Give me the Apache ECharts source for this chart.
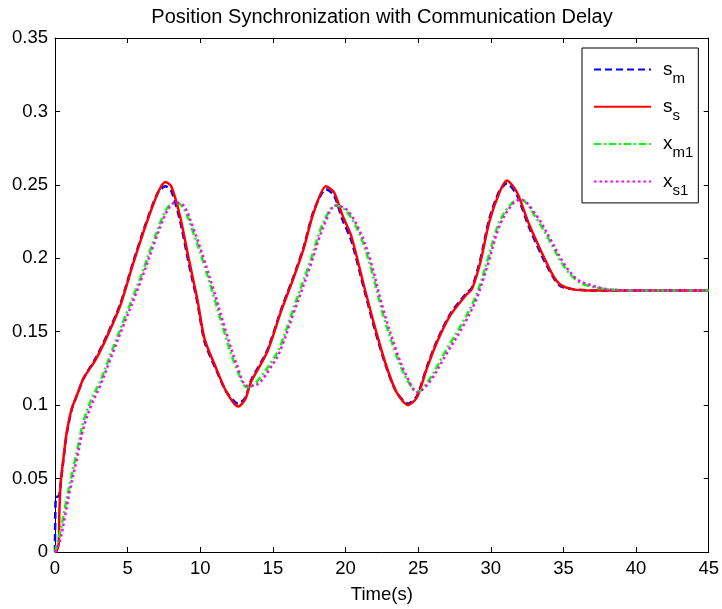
<!DOCTYPE html>
<html>
<head>
<meta charset="utf-8">
<script src="https://cdn.jsdelivr.net/npm/echarts@6/dist/echarts.min.js"></script>
<style>
  html, body { margin: 0; padding: 0; background: #fff; }
  #chart { width: 722px; height: 609px; }
</style>
</head>
<body>
<div id="chart"></div>
<script>
// time stamps for master/slave positions (s)
const tPos = [0, 0.05, 0.25, 0.3, 0.4, 0.57, 0.8, 1.15, 1.6, 1.95,
  2.8, 3.6, 4.5, 5.4, 6.3, 7.1, 7.6, 8.0, 8.6, 9.2,
  9.8, 10.3, 11.1, 11.8, 12.6, 13.1, 13.5, 14.6, 15.6, 16.4,
  17.1, 17.8, 18.65, 19.2, 19.8, 20.4, 21.2, 22.0, 22.8, 23.5,
  24.3, 24.9, 25.6, 26.3, 27.2, 28.3, 28.7, 29.3, 29.9, 30.6,
  31.1, 31.8, 32.6, 33.5, 34.3, 34.8, 35.6, 37, 40, 45];

const sM = [0, 0.037, 0.038, 0.039, 0.047, 0.062, 0.08, 0.097, 0.109, 0.118,
  0.132, 0.148, 0.169, 0.198, 0.225, 0.245, 0.249, 0.246, 0.226, 0.197,
  0.17, 0.143, 0.124, 0.109, 0.101, 0.105, 0.117, 0.137, 0.166, 0.187,
  0.207, 0.232, 0.247, 0.243, 0.226, 0.212, 0.182, 0.152, 0.126, 0.109,
  0.101, 0.106, 0.126, 0.144, 0.162, 0.176, 0.18, 0.2, 0.227, 0.246,
  0.251, 0.243, 0.222, 0.202, 0.187, 0.181, 0.179, 0.178, 0.178, 0.178];

const sS = [0, 0, 0.005, 0.027, 0.048, 0.063, 0.081, 0.0975, 0.109, 0.118,
  0.131, 0.147, 0.168, 0.197, 0.224, 0.245, 0.252, 0.249, 0.229, 0.2,
  0.172, 0.145, 0.125, 0.109, 0.099, 0.104, 0.116, 0.136, 0.165, 0.186,
  0.206, 0.231, 0.249, 0.245, 0.229, 0.215, 0.184, 0.154, 0.127, 0.109,
  0.1, 0.105, 0.125, 0.143, 0.161, 0.175, 0.179, 0.198, 0.225, 0.245,
  0.253, 0.245, 0.224, 0.204, 0.188, 0.182, 0.179, 0.178, 0.178, 0.178];

// time stamps for the delayed states
const tDelay = [0, 0.35, 0.7, 1.05, 1.5, 1.95, 2.5, 3.1, 3.8, 4.7,
  5.85, 6.9, 7.7, 8.3, 8.85, 9.5, 10.2, 10.9, 11.8, 12.5,
  13.25, 13.9, 15.0, 15.5, 16.4, 17.55, 18.5, 19.35, 20.1, 21.0,
  21.7, 22.6, 23.5, 24.2, 24.95, 25.8, 26.95, 28.1, 29.0, 29.8,
  30.6, 31.5, 32.05, 33.15, 34.1, 35.0, 35.9, 36.8, 38.0, 40, 45];

const xM1 = [0, 0.0135, 0.031, 0.048, 0.068, 0.0886, 0.104, 0.116, 0.134, 0.157,
  0.186, 0.215, 0.234, 0.238, 0.234, 0.218, 0.1975, 0.175, 0.145, 0.125,
  0.112, 0.116, 0.131, 0.14, 0.1655, 0.1975, 0.225, 0.236, 0.2316, 0.2155,
  0.195, 0.161, 0.134, 0.118, 0.109, 0.118, 0.138, 0.157, 0.175, 0.1996,
  0.225, 0.238, 0.24, 0.227, 0.211, 0.195, 0.185, 0.181, 0.179, 0.178, 0.178];

const xS1 = [0, 0.008, 0.025, 0.043, 0.063, 0.084, 0.1, 0.113, 0.131, 0.154,
  0.183, 0.212, 0.232, 0.238, 0.236, 0.221, 0.201, 0.179, 0.149, 0.128,
  0.113, 0.114, 0.128, 0.137, 0.162, 0.194, 0.222, 0.236, 0.233, 0.218,
  0.199, 0.165, 0.137, 0.12, 0.109, 0.116, 0.135, 0.154, 0.172, 0.196,
  0.222, 0.237, 0.24, 0.229, 0.213, 0.197, 0.186, 0.182, 0.179, 0.178, 0.178];

const seriesNames = ['s_m', 's_s', 'x_m1', 'x_s1'];
const legendLabels = {
  s_m: ['s', 'm'],
  s_s: ['s', 's'],
  x_m1: ['x', 'm1'],
  x_s1: ['x', 's1']
};

const font = 'Liberation Sans, Arial, Helvetica, sans-serif';

function pairs(ts, vs) {
  return ts.map((t, i) => [t, vs[i]]);
}

function makeLine(name, data, color, type, smooth) {
  return {
    name: name,
    type: 'line',
    data: data,
    symbol: 'none',
    smooth: smooth,
    lineStyle: { color: color, width: 2.5, type: type },
    itemStyle: { color: color }
  };
}

const chart = echarts.init(document.getElementById('chart'));

const axisLine = { show: true, onZero: false, lineStyle: { color: '#000', width: 1 } };
const tickIn = { show: true, inside: true, length: 5, lineStyle: { color: '#000' } };

chart.setOption({
  animation: false,
  backgroundColor: '#fff',
  title: {
    text: 'Position Synchronization with Communication Delay',
    left: 382,
    top: 7,
    padding: 0,
    textAlign: 'center',
    textStyle: { fontSize: 20, fontWeight: 'normal', color: '#000', fontFamily: font }
  },
  grid: { left: 55, right: 13, top: 38, bottom: 56, containLabel: false },
  legend: {
    data: seriesNames,
    orient: 'vertical',
    left: 582,
    top: 48,
    padding: [12, 5, 5, 11],
    itemGap: 11.3,
    itemWidth: 57,
    itemHeight: 14,
    selectedMode: false,
    backgroundColor: '#fff',
    borderColor: '#000',
    borderWidth: 1,
    borderRadius: 0,
    // hide the marker symbol, keep only the line sample
    itemStyle: { opacity: 0, borderWidth: 0 },
    formatter: name => '{a|' + legendLabels[name][0] + '}{b|' + legendLabels[name][1] + '}',
    textStyle: {
      color: '#000',
      fontFamily: font,
      rich: {
        a: { fontSize: 19, lineHeight: 33, padding: [0, 0, 0, 7], fontFamily: font, color: '#000' },
        b: { fontSize: 15, lineHeight: 15, verticalAlign: 'bottom', fontFamily: font, color: '#000' }
      }
    }
  },
  xAxis: [{
    type: 'value',
    min: 0,
    max: 45,
    interval: 5,
    name: 'Time(s)',
    nameLocation: 'middle',
    nameGap: 33,
    nameTextStyle: { fontSize: 18.5, color: '#000', fontFamily: font },
    axisLine: axisLine,
    axisTick: tickIn,
    axisLabel: { fontSize: 18.5, color: '#000', margin: 7, fontFamily: font },
    splitLine: { show: false }
  }, {
    type: 'value',
    position: 'top',
    min: 0,
    max: 45,
    interval: 5,
    axisLine: axisLine,
    axisTick: tickIn,
    axisLabel: { show: false },
    splitLine: { show: false }
  }],
  yAxis: [{
    type: 'value',
    min: 0,
    max: 0.35,
    interval: 0.05,
    axisLine: axisLine,
    axisTick: tickIn,
    axisLabel: { fontSize: 18.5, color: '#000', margin: 7, fontFamily: font },
    splitLine: { show: false }
  }, {
    type: 'value',
    position: 'right',
    min: 0,
    max: 0.35,
    interval: 0.05,
    axisLine: axisLine,
    axisTick: tickIn,
    axisLabel: { show: false },
    splitLine: { show: false }
  }],
  series: [
    makeLine('s_m', pairs(tPos, sM), '#0000ff', [7, 4], 0.25),
    makeLine('s_s', pairs(tPos, sS), '#ff0000', 'solid', 0.25),
    makeLine('x_m1', pairs(tDelay, xM1), '#00ff00', [7, 3, 2, 3], 0.35),
    makeLine('x_s1', pairs(tDelay, xS1), '#ff00ff', [2.5, 3], 0.35)
  ]
});

window.addEventListener('resize', () => chart.resize());
</script>
</body>
</html>
